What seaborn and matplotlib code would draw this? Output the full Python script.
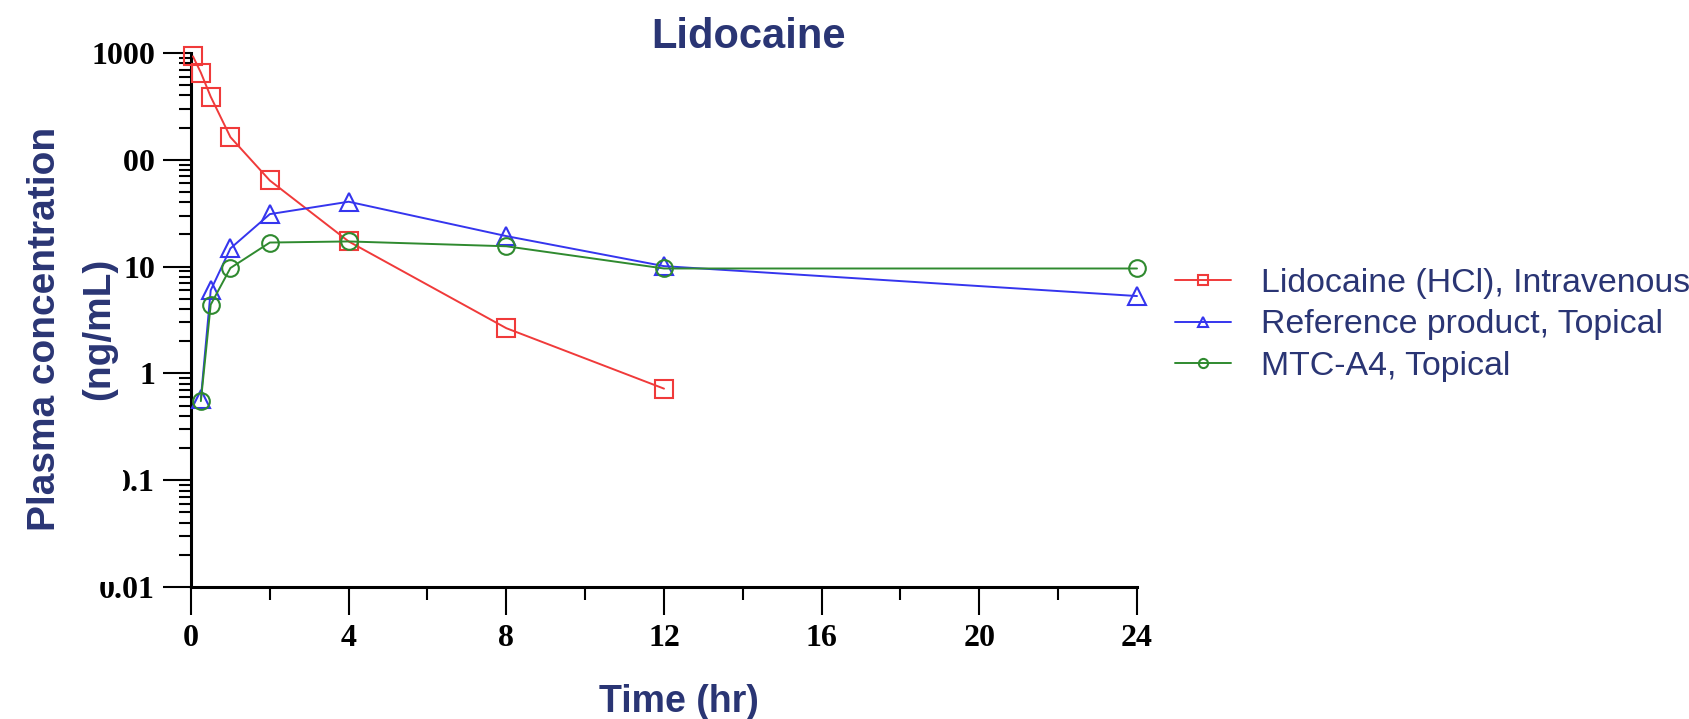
import numpy as np
import pandas as pd
import matplotlib
matplotlib.use("Agg")
import matplotlib.pyplot as plt
from matplotlib.patches import Rectangle
from matplotlib.ticker import FixedLocator, LogLocator, NullFormatter, FuncFormatter
import seaborn as sns

# Plasma lidocaine concentration (ng/mL) over time (hr)
iv_time = [0.05, 0.25, 0.5, 1, 2, 4, 8, 12]
iv_conc = [930, 655, 390, 163, 64, 17.2, 2.65, 0.72]

topical_time = [0.25, 0.5, 1, 2, 4, 8, 12, 24]
reference_conc = [0.58, 6.0, 14.8, 31, 40.5, 19.3, 10.1, 5.3]
mtc_conc = [0.55, 4.4, 9.7, 16.8, 17.2, 15.5, 9.6, 9.6]

series_names = ["Lidocaine (HCl), Intravenous",
                "Reference product, Topical",
                "MTC-A4, Topical"]
x_ticks = [0, 4, 8, 12, 16, 20, 24]
y_ticks = [0.01, 0.1, 1, 10, 100, 1000]
y_tick_labels = ["0.01", "0.1", "1", "10", "100", "1000"]

navy = "#2A3574"
colors = ["#F03A3A", "#3535EE", "#2F8A2F"]
markers = ["s", "^", "o"]
msizes = [13, 13, 12]

sns.set_style("ticks")
plt.rcParams["font.family"] = ["Liberation Sans", "DejaVu Sans"]

W, H = 1690, 719
fig = plt.figure(figsize=(W / 100, H / 100), dpi=100)
fig.patch.set_facecolor("white")

left, right, top, bottom = 191, 1137, 53, 587
ax = fig.add_axes([left / W, 1 - bottom / H, (right - left) / W, (bottom - top) / H])
ax.set_facecolor("white")

frames = [
    pd.DataFrame({"time": iv_time, "conc": iv_conc}),
    pd.DataFrame({"time": topical_time, "conc": reference_conc}),
    pd.DataFrame({"time": topical_time, "conc": mtc_conc}),
]
for df, name, c, m, ms in zip(frames, series_names, colors, markers, msizes):
    sns.lineplot(data=df, x="time", y="conc", ax=ax, label=name, color=c,
                 marker=m, markersize=ms, markerfacecolor="none",
                 markeredgecolor=c, markeredgewidth=1.5, linewidth=1.4,
                 clip_on=False, zorder=3)

ax.set_yscale("log")
ax.set_xlim(0, 24)
ax.set_ylim(0.01, 1000)

ax.xaxis.set_major_locator(FixedLocator(x_ticks))
ax.xaxis.set_minor_locator(FixedLocator([2, 6, 10, 14, 18, 22]))
ax.yaxis.set_major_locator(FixedLocator(y_ticks))
ax.yaxis.set_minor_locator(LogLocator(base=10, subs=np.arange(2, 10)))
ax.yaxis.set_minor_formatter(NullFormatter())
ax.yaxis.set_major_formatter(FuncFormatter(lambda v, p: y_tick_labels[y_ticks.index(v)] if v in y_ticks else ""))

for s in ["top", "right"]:
    ax.spines[s].set_visible(False)
for s in ["left", "bottom"]:
    ax.spines[s].set_linewidth(2.2)
    ax.spines[s].set_color("black")

tick_font = {"family": "Liberation Serif", "weight": "bold", "size": 23}
ax.tick_params(axis="both", which="major", direction="out", length=20, width=1.5,
               color="black", pad=6)
ax.tick_params(axis="both", which="minor", direction="out", length=9, width=1.5,
               color="black")
ax.tick_params(axis="x", which="major", pad=7)
for lab in ax.get_xticklabels() + ax.get_yticklabels():
    lab.set_fontproperties(tick_font)
    lab.set_color("black")

ax.set_xlabel("")
ax.set_ylabel("")

handles, labels = ax.get_legend_handles_labels()
ax.get_legend().remove()
leg = fig.legend(handles, labels, loc="center left",
                 bbox_to_anchor=(1175 / W, 1 - 325 / H), frameon=False,
                 borderpad=0, borderaxespad=0, handlelength=1.65,
                 handletextpad=0.9, labelspacing=0.32, markerscale=0.55,
                 prop={"family": "Liberation Sans", "size": 24.4})
for t in leg.get_texts():
    t.set_color(navy)

# white panel behind the vertical axis title
fig.patches.append(Rectangle((10 / W, 1 - 582 / H), (123 - 10) / W, (582 - 100) / H,
                             transform=fig.transFigure, facecolor="white",
                             edgecolor="none", zorder=1))

fig.text(749 / W, 1 - 48 / H, "Lidocaine", ha="center", va="baseline",
         fontsize=30, fontweight="bold", color=navy, zorder=3)
# two-line vertical axis title, one line at a time
ylabel_style = dict(rotation=90, ha="center", va="center", fontsize=28,
                    fontweight="bold", color=navy, zorder=3)
fig.text(45 / W, 1 - 329 / H, "Plasma concentration", **ylabel_style)
fig.text(99 / W, 1 - 329 / H, "(ng/mL)", **ylabel_style)
fig.text(679 / W, 1 - 702 / H, "Time (hr)", ha="center", va="center",
         fontsize=27, fontweight="bold", color=navy, zorder=3)

fig.savefig("out.png", dpi=100, facecolor=fig.get_facecolor())
